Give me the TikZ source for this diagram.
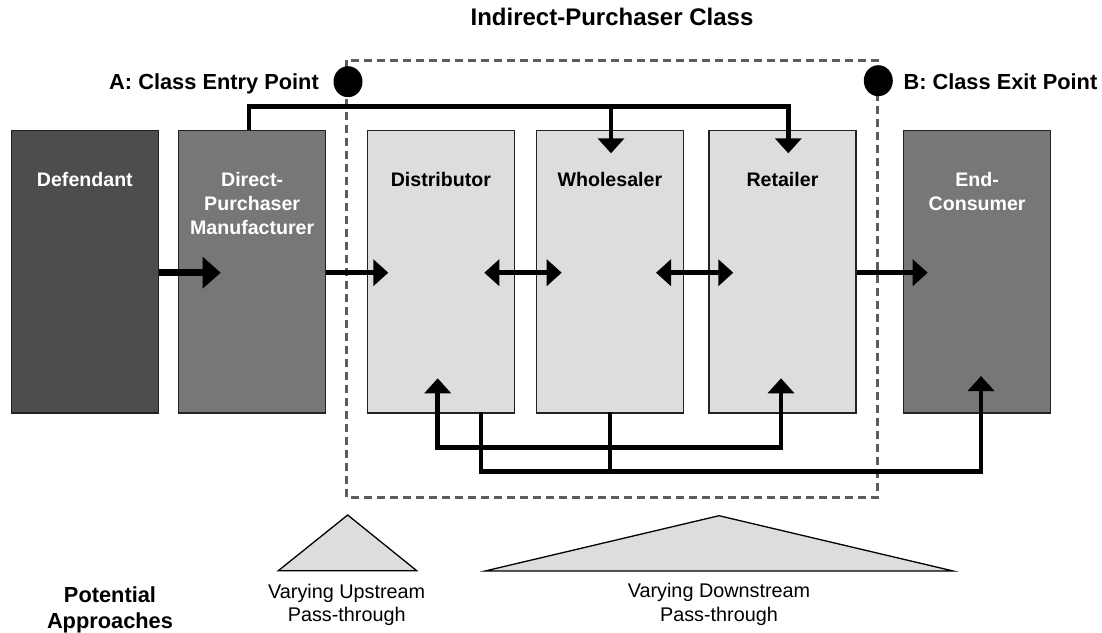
\documentclass[tikz,border=0pt]{standalone}
\usepackage{fontspec}
\setmainfont{Liberation Sans}
\usetikzlibrary{arrows.meta,calc,shapes.geometric}

\definecolor{darkfill}{HTML}{4D4D4D}
\definecolor{midfill}{HTML}{777777}
\definecolor{lightfill}{HTML}{DDDDDD}
\definecolor{dashgray}{HTML}{5C5C5C}
\definecolor{edgegray}{HTML}{222222}

\tikzset{
  x=1pt, y=-1pt,
  stage/.style={draw=edgegray, line width=1.3pt, rectangle, inner sep=0pt,
    minimum width=147pt, minimum height=282.3pt, anchor=north west},
  stagetext/.style={inner sep=0pt, anchor=base, align=center,
    font=\fontsize{19.6}{24}\selectfont\bfseries},
  headline/.style={inner sep=0pt, font=\fontsize{21.8}{25.5}\selectfont\bfseries},
  note/.style={inner sep=0pt, anchor=base, align=center,
    font=\fontsize{19.8}{23.4}\selectfont},
  flow/.style={line width=5pt, -{Triangle[width=26pt,length=15pt]}},
  twoway/.style={line width=5pt, {Triangle[width=26pt,length=15pt]}-{Triangle[width=26pt,length=15pt]}},
  bigflow/.style={line width=6.7pt, -{Triangle[width=30.7pt,length=18pt]}},
  feed/.style={line width=4.5pt, line join=miter},
  feedtip/.style={feed, -{Triangle[width=26pt,length=15pt]}},
  classbox/.style={draw=dashgray, line width=3pt, dash pattern=on 8pt off 5pt},
  marker/.style={fill=black, ellipse, inner sep=0pt, minimum width=29pt, minimum height=31pt},
  wedge/.style={draw=black, line width=1.3pt, fill=lightfill, line join=miter},
}

\begin{document}
\begin{tikzpicture}
\useasboundingbox (0,0) rectangle (1102,632);

% supply chain stages
\node[stage, fill=darkfill]  (def) at (10.7,130) {};
\node[stage, fill=midfill]   (dpm) at (178,130) {};
\node[stage, fill=lightfill] (dis) at (366.7,130) {};
\node[stage, fill=lightfill] (who) at (535.7,130) {};
\node[stage, fill=lightfill] (ret) at (708.3,130) {};
\node[stage, fill=midfill]   (end) at (903,130) {};

% stage names (multi-line names are placed by their last baseline)
\node[stagetext, text=white] (deft) at (def.center |- 0,186) {Defendant};
\node[stagetext, text=white] (dpmt) at (dpm.center |- 0,234) {Direct-\\Purchaser\\Manufacturer};
\node[stagetext] (dist) at (dis.center |- 0,186) {Distributor};
\node[stagetext] (whot) at (who.center |- 0,186) {Wholesaler};
\node[stagetext] (rett) at (ret.center |- 0,186) {Retailer};
\node[stagetext, text=white] (endt) at (end.center |- 0,210) {End-\\Consumer};

% class boundary
\coordinate (cnw) at (346.7,60);
\coordinate (cse) at (877.7,497.3);
\draw[classbox] (cnw) rectangle (cse);
\node[inner sep=0pt, anchor=base, font=\fontsize{24}{28}\selectfont\bfseries] (title) at (612,25) {Indirect-Purchaser Class};

\node[marker] (entry) at (348,81.7) {};
\node[marker] (exit) at (878.3,80.7) {};
\node[headline, anchor=base east] (entryl) at (319,89) {A: Class Entry Point};
\node[headline, anchor=base west] (exitl) at (903.3,89) {B: Class Exit Point};

% main flow through the chain
\coordinate (y0) at (0,272.7);
\coordinate (dpmin) at (220.7,272.7);
\coordinate (disin) at (388.3,272.7);
\coordinate (disout) at (484.3,272.7);
\coordinate (whoin) at (561.7,272.7);
\coordinate (whoout) at (656,272.7);
\coordinate (retin) at (733.3,272.7);
\coordinate (endin) at (927.7,272.7);
\draw[bigflow] (def.east |- y0) -- (dpmin);
\draw[flow] (dpm.east |- y0) -- (disin);
\draw[twoway] (disout) -- (whoin);
\draw[twoway] (whoout) -- (retin);
\draw[flow] (ret.east |- y0) -- (endin);

% direct sales skipping levels
\coordinate (dpmtop) at (249,130);
\coordinate (whotip) at (611,153.3);
\coordinate (rettip) at (788.3,153.3);
\coordinate (bus) at (0,106.7);
\draw[feedtip] (dpmtop) -- (dpmtop |- bus) -- (rettip |- bus) -- (rettip);
\draw[feedtip] (whotip |- bus) -- (whotip);

% returns and bypass routes below the chain
\coordinate (distip) at (437.7,378.3);
\coordinate (rettipb) at (781,378.3);
\coordinate (low1) at (0,447.7);
\coordinate (low2) at (0,471.7);
\coordinate (endtip) at (981,376);
\coordinate (disbot) at (481,412.3);
\coordinate (whobot) at (610,412.3);
\draw[feed, {Triangle[width=26pt,length=15pt]}-{Triangle[width=26pt,length=15pt]}]
  (distip) -- (distip |- low1) -- (rettipb |- low1) -- (rettipb);
\draw[feedtip] (disbot) -- (disbot |- low2) -- (endtip |- low2) -- (endtip);
\draw[feed] (whobot) -- (whobot |- low2);

% pass-through wedges
\draw[wedge] (278.3,570.7) -- (347.7,515) -- (416.7,570.7) -- cycle;
\draw[wedge] (485,571) -- (719,515.7) -- (953.3,571) -- cycle;
\node[note] (up) at (346.7,621.7) {Varying Upstream\\Pass-through};
\node[note] (down) at (719,621.1) {Varying Downstream\\Pass-through};
\node[headline, anchor=base, align=center] (pa) at (110,628.2) {Potential\\Approaches};
\end{tikzpicture}
\end{document}
